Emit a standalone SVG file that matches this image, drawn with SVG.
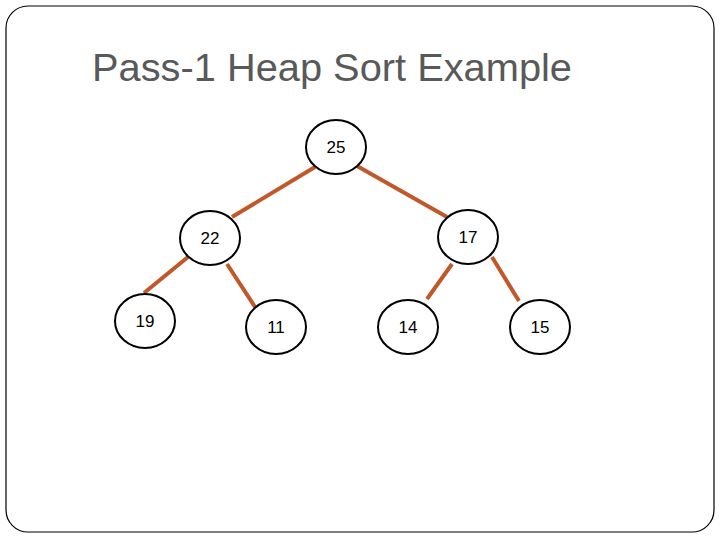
<svg xmlns="http://www.w3.org/2000/svg" width="720" height="540" viewBox="0 0 720 540">
<style>
.n ellipse{fill:#fff;stroke:#000;stroke-width:2}
.n text{font-family:"Liberation Sans",Arial,sans-serif;font-size:17px;text-anchor:middle;fill:#000}
#edges line{stroke:#C0582A;stroke-width:4}
</style>
<rect x="0" y="0" width="720" height="540" fill="#fff"/>
<rect x="6" y="6" width="708" height="526" rx="22" fill="#fff" stroke="#000" stroke-width="1.2"/>
<text x="92" y="81" font-family="Liberation Sans,Arial,sans-serif" font-size="38" textLength="480" lengthAdjust="spacingAndGlyphs" fill="#595959">Pass-1 Heap Sort Example</text>
<g id="edges">
<line x1="315" y1="167" x2="232" y2="217"/>
<line x1="357" y1="166" x2="447" y2="217"/>
<line x1="188" y1="257" x2="144" y2="293"/>
<line x1="227" y1="264" x2="255" y2="307"/>
<line x1="452" y1="264" x2="427" y2="299"/>
<line x1="492" y1="257" x2="519" y2="301"/>
</g>
<g id="n25" class="n"><ellipse cx="336" cy="147" rx="30" ry="27"/><text x="336" y="153">25</text></g>
<g id="n22" class="n"><ellipse cx="210" cy="238" rx="30" ry="27"/><text x="210" y="244">22</text></g>
<g id="n17" class="n"><ellipse cx="468" cy="237" rx="30" ry="27"/><text x="468" y="243">17</text></g>
<g id="n19" class="n"><ellipse cx="145" cy="321" rx="30" ry="27"/><text x="145" y="327">19</text></g>
<g id="n11" class="n"><ellipse cx="276" cy="327" rx="30" ry="27"/><text x="276" y="333">11</text></g>
<g id="n14" class="n"><ellipse cx="408" cy="327" rx="30" ry="27"/><text x="408" y="333">14</text></g>
<g id="n15" class="n"><ellipse cx="540" cy="327" rx="30" ry="27"/><text x="540" y="333">15</text></g>
</svg>
